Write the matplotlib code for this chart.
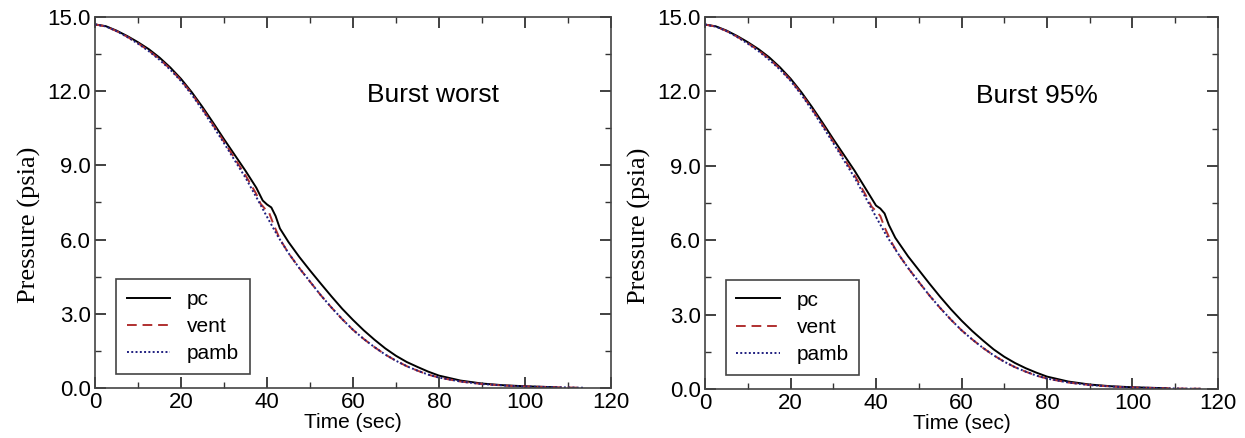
import numpy as np
import matplotlib
matplotlib.use("Agg")
from matplotlib import pyplot as plt
from matplotlib.ticker import MultipleLocator, FormatStrFormatter

# ---- data (time in sec, pressure in psia) ----
t_pc_w = [0, 2.5, 5, 7.5, 10, 12.5, 15, 17.5, 20, 22.5, 25, 27.5, 30, 32.5, 35, 37.5,
          39, 40, 41, 42, 43, 45, 47.5, 50, 52.5, 55, 57.5, 60, 62.5, 65, 67.5, 70,
          72.5, 75, 77.5, 80, 85, 90, 95, 100, 107]
p_pc_w = [14.7, 14.63, 14.45, 14.23, 13.98, 13.7, 13.36, 12.96, 12.5, 11.96, 11.36, 10.72,
          10.06, 9.42, 8.78, 8.1, 7.58, 7.42, 7.3, 6.95, 6.45, 5.9, 5.3, 4.75, 4.22, 3.7,
          3.2, 2.75, 2.33, 1.95, 1.6, 1.3, 1.05, 0.85, 0.66, 0.5, 0.3, 0.18, 0.11, 0.07, 0.03]

t_vent_w = [0, 2.5, 5, 7.5, 10, 12.5, 15, 17.5, 20, 22.5, 25, 27.5, 30, 32.5, 35, 37.5,
            38.5, 39.5, 40.5, 41.5, 43, 45, 47.5, 50, 52.5, 55, 57.5, 60, 62.5, 65, 67.5,
            70, 72.5, 75, 77.5, 80, 85, 90, 95, 100, 105, 110, 113.5]
p_vent_w = [14.7, 14.62, 14.43, 14.2, 13.94, 13.64, 13.3, 12.9, 12.44, 11.9, 11.28, 10.63,
            9.96, 9.28, 8.6, 7.85, 7.45, 7.25, 7.08, 6.62, 6.02, 5.45, 4.85, 4.3, 3.75, 3.25,
            2.78, 2.35, 1.98, 1.65, 1.35, 1.1, 0.88, 0.7, 0.54, 0.42, 0.26, 0.16, 0.1,
            0.06, 0.04, 0.02, 0.01]

t_pamb_w = [0, 2.5, 5, 7.5, 10, 12.5, 15, 17.5, 20, 22.5, 25, 27.5, 30, 32.5, 35, 37.5,
            40, 42.5, 45, 47.5, 50, 52.5, 55, 57.5, 60, 62.5, 65, 67.5, 70, 72.5, 75,
            77.5, 80, 85, 90, 95, 100, 105, 110, 113.5]
p_pamb_w = [14.7, 14.62, 14.43, 14.19, 13.92, 13.62, 13.27, 12.87, 12.41, 11.86, 11.24, 10.58,
            9.9, 9.2, 8.5, 7.72, 6.92, 6.14, 5.45, 4.85, 4.3, 3.75, 3.25, 2.78, 2.35, 1.98,
            1.65, 1.35, 1.1, 0.88, 0.7, 0.54, 0.42, 0.26, 0.16, 0.1, 0.06, 0.04, 0.02, 0.01]

t_pc_9 = [0, 2.5, 5, 7.5, 10, 12.5, 15, 17.5, 20, 22.5, 25, 27.5, 30, 32.5, 35, 37.5,
          40, 41, 42, 43, 44.5, 47.5, 50, 52.5, 55, 57.5, 60, 62.5, 65, 67.5, 70, 72.5,
          75, 77.5, 80, 85, 90, 95, 100, 108]
p_pc_9 = [14.7, 14.63, 14.46, 14.24, 13.99, 13.71, 13.38, 12.98, 12.52, 11.98, 11.38, 10.74,
          10.08, 9.44, 8.8, 8.1, 7.4, 7.28, 7.08, 6.62, 6.1, 5.35, 4.8, 4.25, 3.72, 3.22,
          2.76, 2.34, 1.96, 1.6, 1.3, 1.05, 0.84, 0.66, 0.5, 0.3, 0.18, 0.11, 0.07, 0.03]

t_vent_9 = [0, 2.5, 5, 7.5, 10, 12.5, 15, 17.5, 20, 22.5, 25, 27.5, 30, 32.5, 35, 37.5,
            39, 40, 41, 42, 43.5, 45, 47.5, 50, 52.5, 55, 57.5, 60, 62.5, 65, 67.5, 70,
            72.5, 75, 77.5, 80, 85, 90, 95, 100, 105, 110, 116]
p_vent_9 = [14.7, 14.62, 14.44, 14.21, 13.95, 13.66, 13.32, 12.92, 12.46, 11.92, 11.3, 10.65,
            9.98, 9.3, 8.62, 7.85, 7.35, 7.18, 6.98, 6.52, 5.96, 5.5, 4.88, 4.32, 3.77, 3.27,
            2.8, 2.37, 2.0, 1.66, 1.36, 1.1, 0.88, 0.7, 0.54, 0.42, 0.26, 0.16, 0.1, 0.06,
            0.04, 0.02, 0.01]

t_pamb_9 = [0, 2.5, 5, 7.5, 10, 12.5, 15, 17.5, 20, 22.5, 25, 27.5, 30, 32.5, 35, 37.5,
            40, 42.5, 45, 47.5, 50, 52.5, 55, 57.5, 60, 62.5, 65, 67.5, 70, 72.5, 75,
            77.5, 80, 85, 90, 95, 100, 105, 110, 116]
p_pamb_9 = [14.7, 14.62, 14.44, 14.2, 13.93, 13.63, 13.28, 12.89, 12.43, 11.88, 11.26, 10.6,
            9.92, 9.22, 8.52, 7.74, 6.94, 6.17, 5.5, 4.88, 4.32, 3.77, 3.27, 2.8, 2.37, 2.0,
            1.66, 1.36, 1.1, 0.88, 0.7, 0.54, 0.42, 0.26, 0.16, 0.1, 0.06, 0.04, 0.02, 0.01]

titles = ["Burst worst", "Burst 95%"]
labels = ["pc", "vent", "pamb"]

panels = [
    [(t_pc_w, p_pc_w), (t_vent_w, p_vent_w), (t_pamb_w, p_pamb_w)],
    [(t_pc_9, p_pc_9), (t_vent_9, p_vent_9), (t_pamb_9, p_pamb_9)],
]

colors = ["black", "#b03030", "#1f1f80"]
styles = ["-", (0, (5, 3)), (0, (1, 1.2))]

plt.rcParams["font.family"] = ["Liberation Sans", "DejaVu Sans"]

fig = plt.figure(figsize=(12.45, 4.38), dpi=100)
rects = [[0.0763, 0.1142, 0.4145, 0.847], [0.5663, 0.1119, 0.412, 0.849]]

for rect, series, title in zip(rects, panels, titles):
    ax = fig.add_axes(rect)
    for (t, p), c, ls, lab in zip(series, colors, styles, labels):
        ax.plot(t, p, color=c, linestyle=ls, linewidth=1.4, label=lab)

    ax.set_xlim(0, 120)
    ax.set_ylim(0, 15)
    ax.xaxis.set_major_locator(MultipleLocator(20))
    ax.xaxis.set_minor_locator(MultipleLocator(10))
    ax.yaxis.set_major_locator(MultipleLocator(3))
    ax.yaxis.set_minor_locator(MultipleLocator(1.5))
    ax.yaxis.set_major_formatter(FormatStrFormatter("%.1f"))
    ax.tick_params(which="both", direction="in", top=True, right=True,
                   labelsize=16, pad=3, color="#333333")
    ax.tick_params(which="major", length=8, width=1.3)
    ax.tick_params(which="minor", length=4, width=1.0)
    for s in ax.spines.values():
        s.set_color("#444444")
        s.set_linewidth(1.2)

    ax.set_xlabel("Time (sec)", fontsize=15, labelpad=0)
    ax.set_ylabel("Pressure (psia)", fontsize=19, family=["Liberation Serif", "DejaVu Serif"],
                  labelpad=2)
    ax.yaxis.set_label_coords(-0.105, 0.44)

    ax.text(0.528, 0.77, title, transform=ax.transAxes, fontsize=19, ha="left", va="baseline")

    leg = ax.legend(loc="lower left", bbox_to_anchor=(0.041, 0.038), borderaxespad=0,
                    fontsize=15, handlelength=2.1, borderpad=0.5, labelspacing=0.4,
                    fancybox=False, framealpha=1, edgecolor="#444444")
    leg.get_frame().set_linewidth(1.2)

fig.savefig("out.png", dpi=100)
